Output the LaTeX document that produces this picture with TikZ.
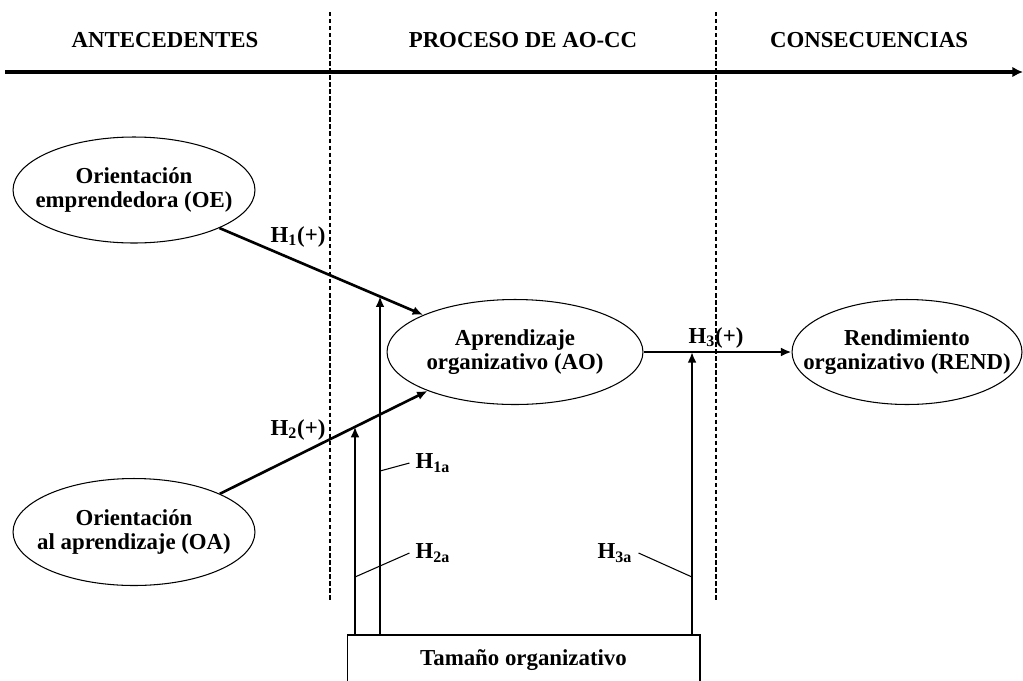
\documentclass[tikz,border=0pt]{standalone}
\usepackage{fontspec}
\setmainfont{Liberation Serif}
\usetikzlibrary{shapes.geometric, arrows.meta}

\tikzset{
  elipse/.style={ellipse, draw, line width=0.6pt, inner xsep=-40pt, inner ysep=-12pt, align=center},
  flecha/.style={line width=1.5pt, -{Latex[length=6pt,width=5pt]}},
  guia/.style={line width=0.6pt},
  divisor/.style={line width=0.9pt, dash pattern=on 2.5pt off 1.5pt},
}

\begin{document}
\begin{tikzpicture}[x=0.02cm, y=-0.02cm, font=\fontsize{13}{13.5}\selectfont\bfseries]
        \useasboundingbox (0, 0) rectangle (1023, 680);

        % etapas
        \coordinate (T1) at (5, 72);
        \coordinate (T2) at (1023, 72);
        \coordinate (D1) at (330, 12);
        \coordinate (D2) at (330, 602);
        \coordinate (D3) at (716, 12);
        \coordinate (D4) at (716, 602);

        \draw[line width=2pt, -{Latex[length=6pt,width=6pt]}] (T1) -- (T2);
        \draw[divisor] (D1) -- (D2);
        \draw[divisor] (D3) -- (D4);

        \node (ant) at (165, 40) {ANTECEDENTES};
        \node (pro) at (523, 40) {PROCESO DE AO-CC};
        \node (con) at (869, 40) {CONSECUENCIAS};

        % constructos
        \node[elipse, minimum width=4.84cm, minimum height=2.12cm] (oe) at (134, 190) {Orientación\\emprendedora (OE)};
        \node[elipse, minimum width=4.84cm, minimum height=2.14cm] (oa) at (134, 532) {Orientación\\al aprendizaje (OA)};
        \node[elipse, minimum width=5.12cm, minimum height=2.1cm] (ao) at (515, 352) {Aprendizaje\\organizativo (AO)};
        \node[elipse, minimum width=4.6cm, minimum height=2.1cm] (rend) at (907, 352) {Rendimiento\\organizativo (REND)};
        \node[draw, line width=0.6pt, minimum width=7.06cm, minimum height=1cm] (tam) at (523.5, 660) {Tamaño organizativo};

        \draw[flecha] (oe.-24) -- (ao.158);
        \draw[flecha] (oa.24) -- (ao.-156);
        \draw[flecha] (ao.east) -- (rend.west);

        % moderacion
        \coordinate (M1) at (380, 296.3);
        \coordinate (M2) at (355, 426.7);
        \coordinate (M3) at (692, 352);

        \draw[flecha] (M1 |- tam.north) -- (M1);
        \draw[flecha] (M2 |- tam.north) -- (M2);
        \draw[flecha] (M3 |- tam.north) -- (M3);

        \node (h1) at (298, 237) {H\textsubscript{1}(+)};
        \node (h2) at (298, 430) {H\textsubscript{2}(+)};
        \node (h3) at (716, 338) {H\textsubscript{3}(+)};

        \node (h1a) at (433, 463) {H\textsubscript{1a}};
        \node (h2a) at (433, 553) {H\textsubscript{2a}};
        \node (h3a) at (615, 553) {H\textsubscript{3a}};

        \coordinate (P1) at (380, 471);
        \coordinate (P2) at (355, 577);
        \coordinate (P3) at (692, 577);

        \draw[guia] (P1) -- (h1a.west);
        \draw[guia] (P2) -- (h2a.west);
        \draw[guia] (P3) -- (h3a.east);
\end{tikzpicture}
\end{document}
